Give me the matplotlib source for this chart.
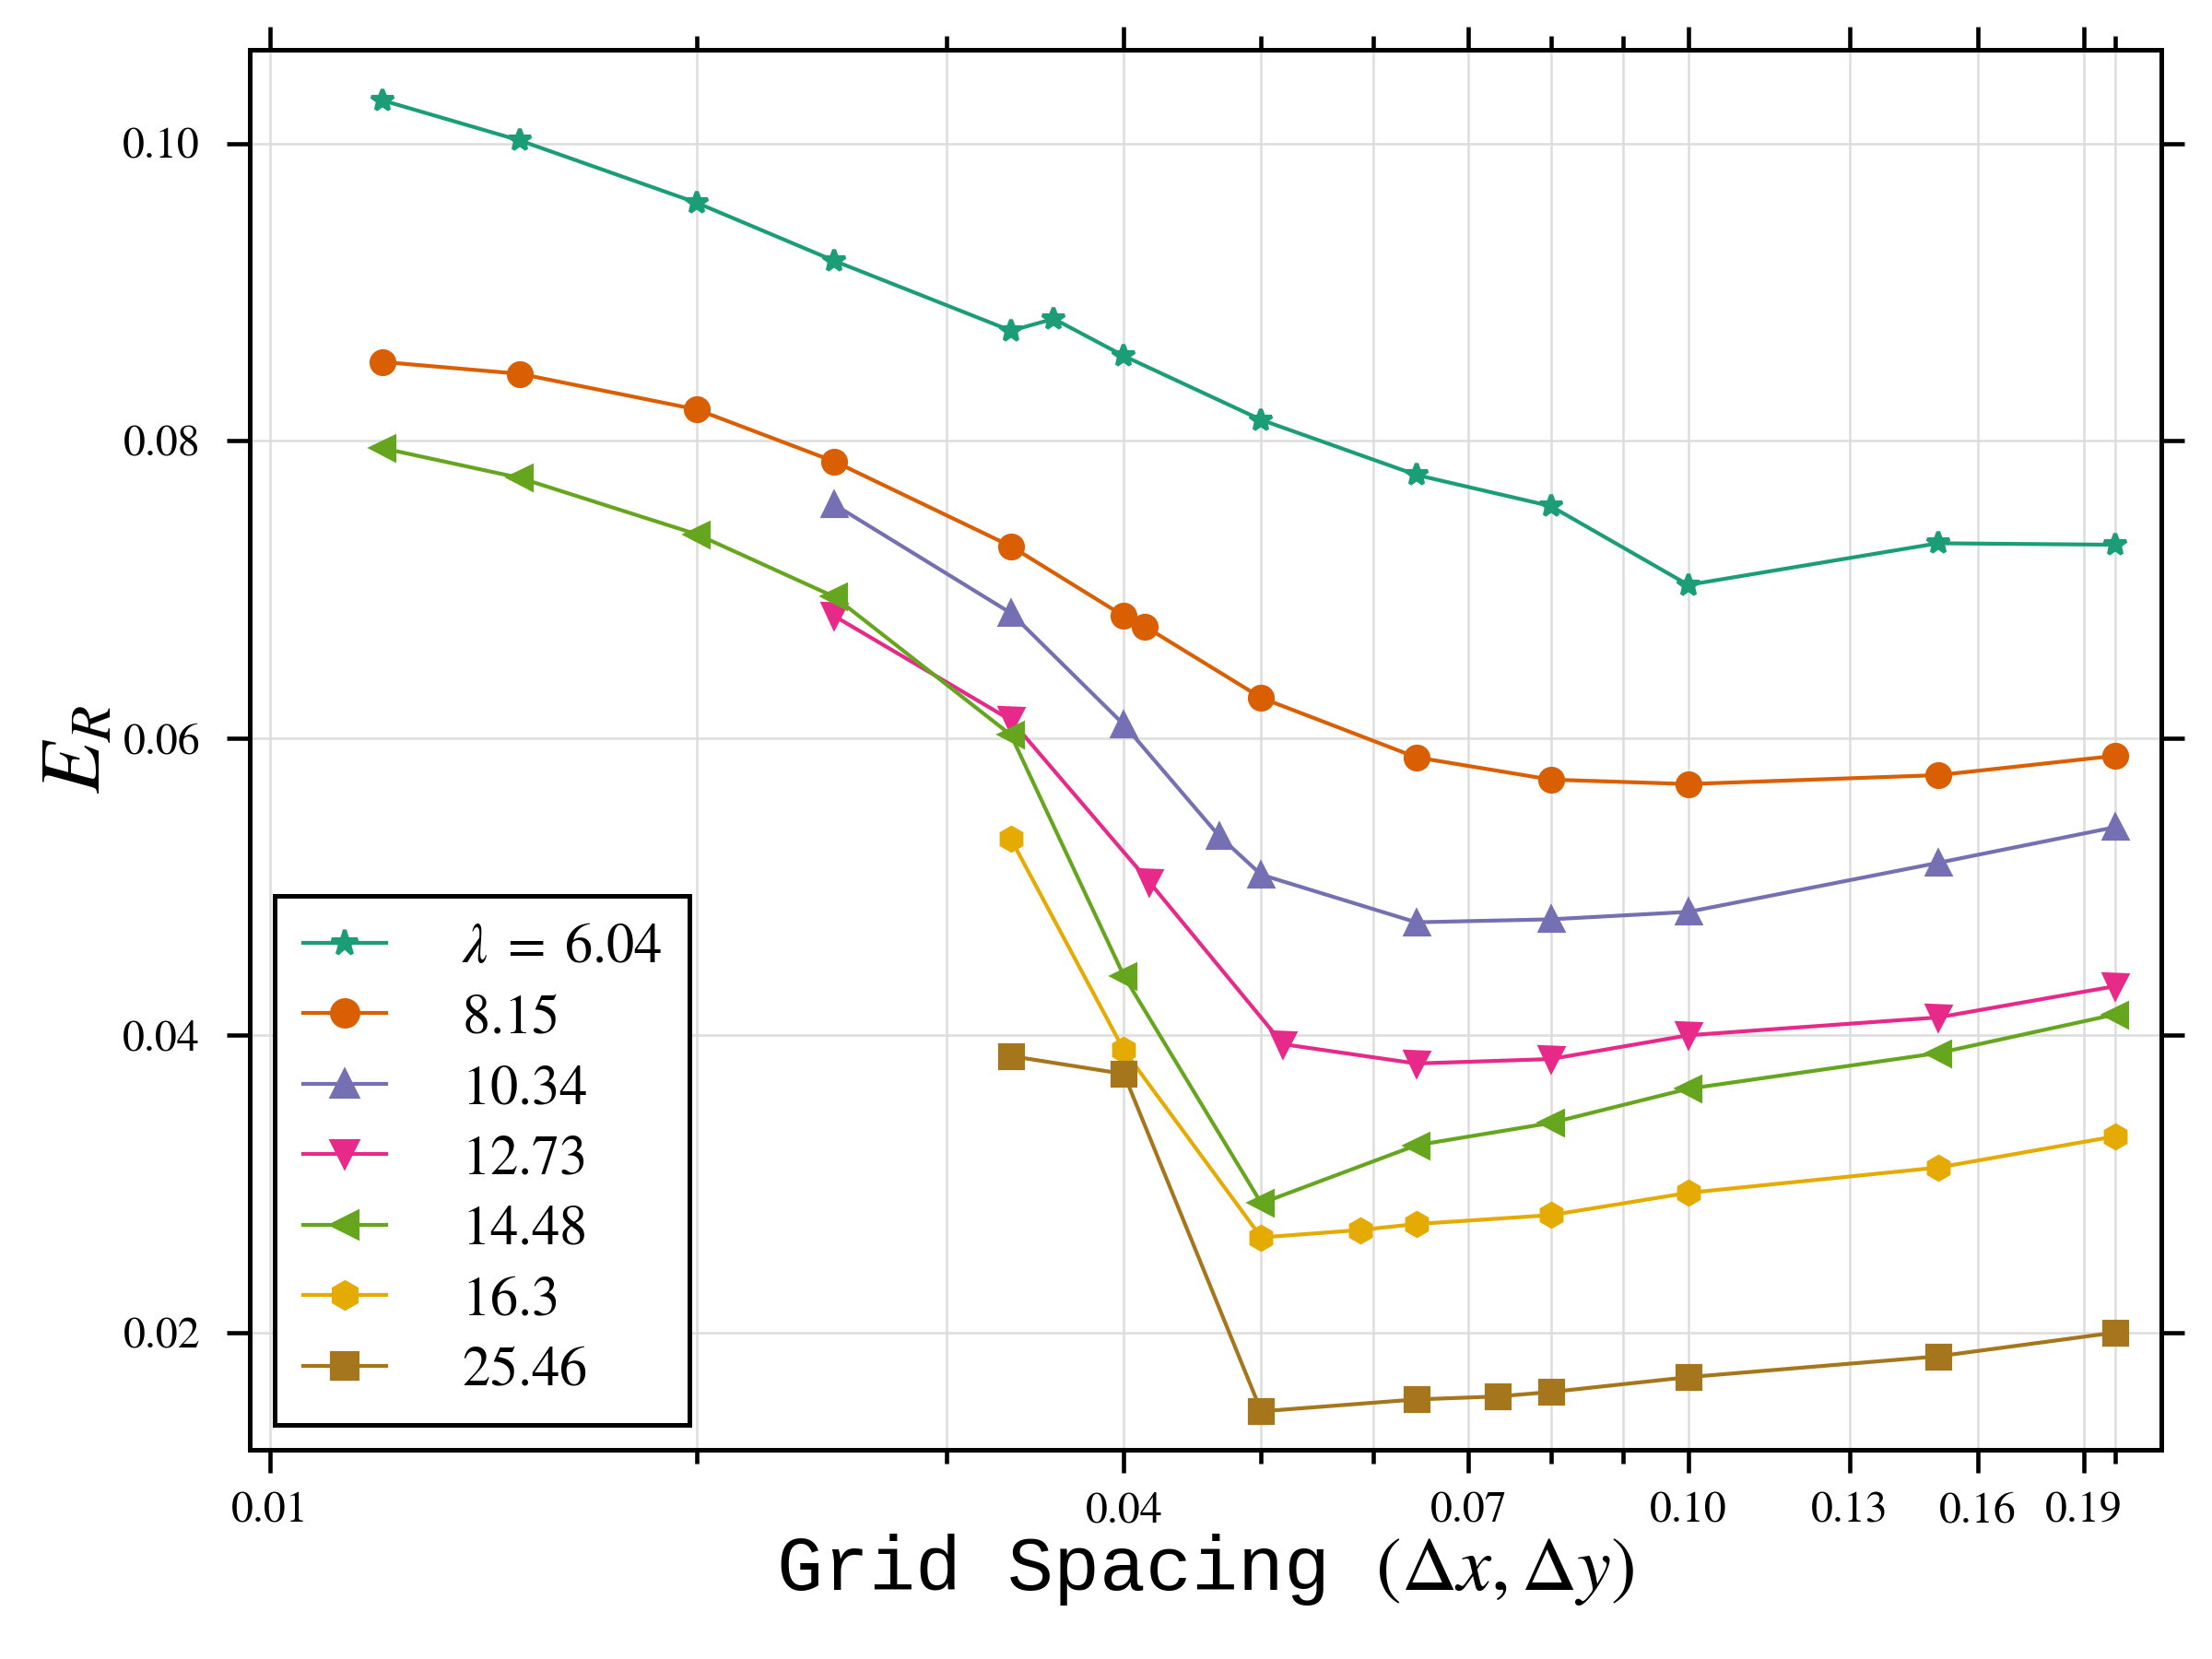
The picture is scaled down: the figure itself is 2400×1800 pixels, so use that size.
import numpy as np
import matplotlib.pyplot as plt
from matplotlib.ticker import FixedLocator, FixedFormatter, NullFormatter

plt.rcParams['font.family'] = ['STIXGeneral', 'Liberation Serif', 'DejaVu Serif']
plt.rcParams['mathtext.fontset'] = 'stix'

# grid spacing values
x_a = [0.012, 0.015, 0.02, 0.025, 0.0333, 0.0357, 0.04, 0.05, 0.0643, 0.08, 0.10, 0.15, 0.2]
x_b = [0.012, 0.015, 0.02, 0.025, 0.0333, 0.04, 0.0414, 0.05, 0.0643, 0.08, 0.10, 0.15, 0.2]
x_c = [0.025, 0.0333, 0.04, 0.0467, 0.05, 0.0643, 0.08, 0.10, 0.15, 0.2]
x_d = [0.025, 0.0333, 0.0417, 0.0518, 0.0643, 0.08, 0.10, 0.15, 0.2]
x_e = [0.012, 0.015, 0.02, 0.025, 0.0333, 0.04, 0.05, 0.0643, 0.08, 0.10, 0.15, 0.2]
x_f = [0.0333, 0.04, 0.05, 0.0587, 0.0643, 0.08, 0.10, 0.15, 0.2]
x_g = [0.0333, 0.04, 0.05, 0.0643, 0.0734, 0.08, 0.10, 0.15, 0.2]

# E_R values
er_604 = [0.1029, 0.1002, 0.0960, 0.0921, 0.0874, 0.0882, 0.0857, 0.0814, 0.0777, 0.0756, 0.0703, 0.0731, 0.0730]
er_815 = [0.0853, 0.0845, 0.0821, 0.0786, 0.0729, 0.0682, 0.0675, 0.0627, 0.0587, 0.0572, 0.0569, 0.0575, 0.0588]
er_1034 = [0.0757, 0.0684, 0.0609, 0.0534, 0.0508, 0.0476, 0.0478, 0.0483, 0.0516, 0.0540]
er_1273 = [0.0682, 0.0612, 0.0503, 0.0394, 0.0381, 0.0384, 0.0400, 0.0412, 0.0433]
er_1448 = [0.0795, 0.0775, 0.0737, 0.0695, 0.0602, 0.0440, 0.0287, 0.0326, 0.0341, 0.0364, 0.0388, 0.0414]
er_163 = [0.0532, 0.0390, 0.0264, 0.0269, 0.0273, 0.0279, 0.0294, 0.0311, 0.0332]
er_2546 = [0.0386, 0.0374, 0.0147, 0.0155, 0.0157, 0.0160, 0.0170, 0.0184, 0.0200]

labels = [r'$\lambda\;=\;6.04$', '$8.15$', '$10.34$', '$12.73$', '$14.48$', '$16.3$', '$25.46$']
xs = [x_a, x_b, x_c, x_d, x_e, x_f, x_g]
ys = [er_604, er_815, er_1034, er_1273, er_1448, er_163, er_2546]
colors = ['#1b9e77', '#d95f02', '#7570b3', '#e7298a', '#66a61e', '#e6ab02', '#a6761d']
markers = ['*', 'o', '^', 'v', '<', 'h', 's']
msizes = [6, 6, 6, 6, 6, 6, 6]

xticks_major = [0.01, 0.04, 0.07, 0.10, 0.13, 0.16, 0.19]
xtick_labels = ['0.01', '0.04', '0.07', '0.10', '0.13', '0.16', '0.19']
xticks_minor = [0.02, 0.03, 0.05, 0.06, 0.08, 0.09, 0.2]

fig = plt.figure(figsize=(8, 6), dpi=300)
ax = fig.add_axes([0.113, 0.126, 0.864, 0.844])

for x, y, c, m, ms, lab in zip(xs, ys, colors, markers, msizes, labels):
    ax.plot(x, y, color=c, marker=m, markersize=ms, linewidth=1.0, label=lab, zorder=3)

ax.set_xscale('log')
ax.set_xlim(0.00968, 0.2155)
ax.set_ylim(0.0121, 0.1063)

ax.xaxis.set_major_locator(FixedLocator(xticks_major))
ax.xaxis.set_major_formatter(FixedFormatter(xtick_labels))
ax.xaxis.set_minor_locator(FixedLocator(xticks_minor))
ax.xaxis.set_minor_formatter(NullFormatter())
ax.set_yticks([0.02, 0.04, 0.06, 0.08, 0.10])
ax.set_yticklabels(['0.02', '0.04', '0.06', '0.08', '0.10'])

ax.tick_params(which='both', direction='out', top=True, right=True, width=1.1, labelsize=11.5)
ax.tick_params(axis='x', pad=5)
ax.tick_params(axis='y', pad=7)
ax.tick_params(which='major', length=6)
ax.tick_params(which='minor', length=3.5)

ax.grid(True, which='both', color='#dddddd', linewidth=0.6, zorder=0)
for s in ax.spines.values():
    s.set_linewidth(1.2)

ax.set_ylabel(r'$E_R$', fontsize=22, labelpad=1)
ax.set_xlabel(r'Grid Spacing $(\Delta x,\Delta y)$', fontsize=20,
              family=['Liberation Mono', 'DejaVu Sans Mono'], labelpad=0)

leg = ax.legend(loc='lower left', bbox_to_anchor=(0.0, 0.0), borderaxespad=0.45,
                fontsize=14.5, fancybox=False, edgecolor='black', framealpha=1,
                markerscale=1.15, handlelength=1.5, handletextpad=1.35,
                borderpad=0.5, labelspacing=0.35)
leg.get_frame().set_linewidth(1.2)

fig.savefig('out.png', dpi=300)
